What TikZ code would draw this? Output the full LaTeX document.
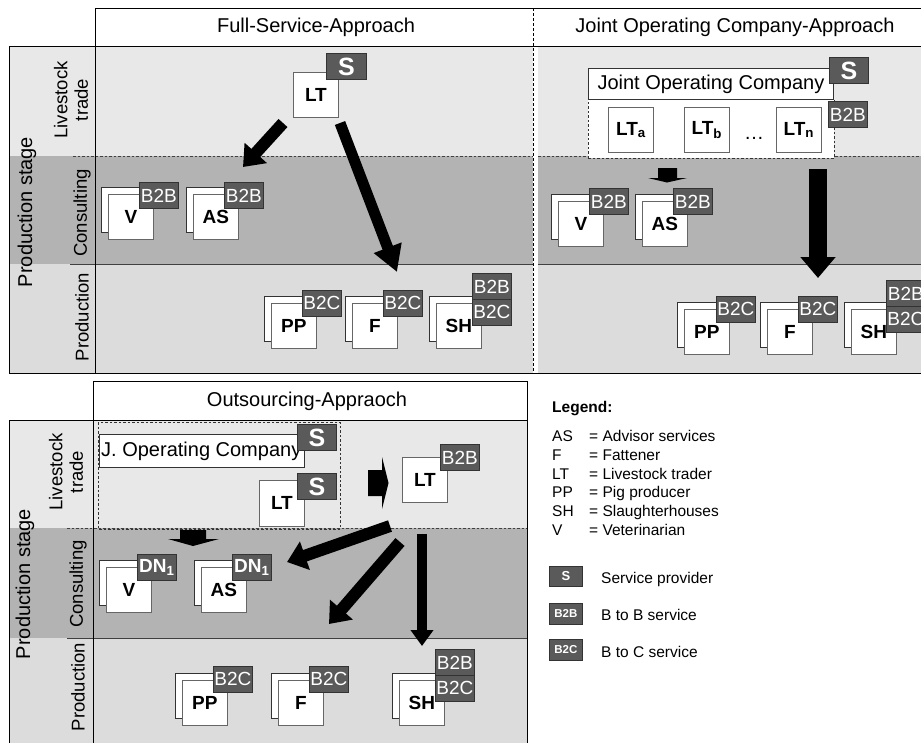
\documentclass[tikz,border=0pt]{standalone}
\usepackage{fontspec}
\setmainfont{Liberation Sans}
\usetikzlibrary{arrows.meta}
\definecolor{lsband}{HTML}{E8E8E8}
\definecolor{cnband}{HTML}{B3B3B3}
\definecolor{prband}{HTML}{DCDCDC}
\definecolor{badgec}{HTML}{5A5A5A}
\newcommand\fs[1]{\fontsize{#1}{#1}\selectfont}
\begin{document}
\begin{tikzpicture}[x=1pt,y=-1pt,
  frontbox/.style={draw=black!60, fill=white, line width=0.8pt, minimum width=45pt, minimum height=45pt, inner sep=0pt, anchor=north west, font=\fs{19}\bfseries},
  backbox/.style={draw=black!80, fill=white, line width=0.8pt, minimum width=45pt, minimum height=45pt, inner sep=0pt, anchor=north west},
  badge/.style={draw=black!80, fill=badgec, line width=0.8pt, minimum width=39pt, minimum height=26pt, inner sep=0pt, anchor=north west, text=white, font=\fs{19}},
  sbadge/.style={badge, minimum width=40pt, font=\fs{25}\bfseries},
  dnbadge/.style={badge, font=\fs{19}\bfseries},
  lgbadge/.style={badge, minimum width=33pt, minimum height=21pt, font=\fs{11.5}\bfseries},
  bandline/.style={draw=black!75, line width=0.7pt},
  banddash/.style={draw=black!75, line width=0.7pt, dash pattern=on 2.5pt off 2pt},
  frame/.style={draw=black, line width=0.9pt},
  bandlabel/.style={rotate=90, font=\fs{18.5}},
  heavy/.style={line width=#1, -{Triangle[length=19pt,width=29pt]}},
  legtext/.style={anchor=base west, inner sep=0pt, font=\fs{15.5}}
]
\useasboundingbox (0,0) rectangle (921,742);
\clip (0,0) rectangle (921,742);
\fill[white] (0,0) rectangle (921,742);

% ---------- top panel bands
\fill[lsband] (9,46) rectangle (533,156);
\fill[cnband] (9,156) rectangle (533,264);
\fill[prband] (9,264) rectangle (533,373);
\fill[lsband] (538,46) rectangle (925,156);
\fill[cnband] (538,156) rectangle (925,264);
\fill[prband] (538,264) rectangle (925,373);
\draw[banddash] (73,156) -- (533,156);
\draw[banddash] (538,156) -- (925,156);
\draw[bandline] (70,264) -- (533,264);
\draw[bandline] (538,264) -- (925,264);
\draw[frame] (95,8) -- (925,8);
\draw[frame] (95,8) -- (95,373);
\draw[frame] (9,46) -- (925,46);
\draw[frame] (9,46) -- (9,373) -- (925,373);
\draw[black, line width=0.8pt, dash pattern=on 3pt off 2pt] (533,8) -- (533,373);

\node[font=\fs{20}] (h1) at (316,27) {Full-Service-Approach};
\node[font=\fs{20}] (h2) at (735,27) {Joint Operating Company-Approach};

\node[rotate=90, font=\fs{20}] (ps1) at (27,212) {Production stage};
\node[rotate=90, font=\fontsize{18.5}{20.5}\selectfont, align=center] (lv1) at (71,100) {Livestock\\trade};
\node[bandlabel] (cs1) at (82,213) {Consulting};
\node[bandlabel] (pr1) at (82,317) {Production};

% ---------- Full-Service-Approach
\node[frontbox] (lt1) at (293,72) {LT};
\node[sbadge] (lt1s) at (326,53) {S};

\node[backbox] (v1k) at (101,187) {};
\node[frontbox] (v1) at (108,194) {V};
\node[badge] (v1b) at (139,182) {B2B};
\node[backbox] (as1k) at (186,187) {};
\node[frontbox] (as1) at (193,194) {AS};
\node[badge] (as1b) at (224,182) {B2B};

\node[backbox] (pp1k) at (264,296) {};
\node[frontbox] (pp1) at (271,303) {PP};
\node[badge] (pp1b) at (302,290) {B2C};
\node[backbox] (f1k) at (345,296) {};
\node[frontbox] (f1) at (352,303) {F};
\node[badge] (f1b) at (383,290) {B2C};
\node[backbox] (sh1k) at (429,296) {};
\node[frontbox] (sh1) at (436,303) {SH};
\node[badge] (sh1b) at (472,273) {B2B};
\node[badge] (sh1c) at (472,299) {B2C};

\coordinate (a1s) at (283,123);
\coordinate (a1e) at (243,167);
\coordinate (a2s) at (340,123);
\coordinate (a2e) at (397,272);
\draw[heavy=12pt] (a1s) -- (a1e);
\draw[line width=11pt, -{Triangle[length=26pt,width=28pt]}] (a2s) -- (a2e);

% ---------- Joint Operating Company-Approach
\node[draw=black!80, line width=0.8pt, dash pattern=on 2.5pt off 2pt, fill=white, minimum width=246pt, minimum height=59pt, inner sep=0pt, anchor=north west] (jocd) at (588,99) {};
\node[draw=black!80, line width=0.8pt, fill=white, minimum width=245pt, minimum height=31pt, inner sep=0pt, anchor=north west, font=\fs{20}] (joc) at (588,68) {Joint Operating Company};
\node[sbadge, minimum width=39pt] (jocs) at (829,57) {S};
\node[badge] (jocb) at (828,101) {B2B};
\node[frontbox] (lta) at (608,107) {LT\textsubscript{a}};
\node[frontbox] (ltb) at (684,107) {LT\textsubscript{b}};
\node[frontbox] (ltn) at (776,107) {LT\textsubscript{n}};
\node[font=\fs{20}, anchor=base, inner sep=0pt] (dots) at (754,139) {\dots};

\fill[black] (658,168) -- (677,168) -- (677,178) -- (687,178) -- (667,182.5) -- (648,178) -- (658,178) -- cycle;
\coordinate (a3s) at (818,169);
\coordinate (a3e) at (818,278);
\draw[line width=18pt, -{Triangle[length=21pt,width=34pt]}] (a3s) -- (a3e);

\node[backbox] (v2k) at (551,194) {};
\node[frontbox] (v2) at (558,201) {V};
\node[badge] (v2b) at (589,188) {B2B};
\node[backbox] (as2k) at (635,194) {};
\node[frontbox] (as2) at (642,201) {AS};
\node[badge] (as2b) at (673,188) {B2B};

\node[backbox] (pp2k) at (677,302) {};
\node[frontbox] (pp2) at (684,309) {PP};
\node[badge] (pp2b) at (716,296) {B2C};
\node[backbox] (f2k) at (760,302) {};
\node[frontbox] (f2) at (767,309) {F};
\node[badge] (f2b) at (798,296) {B2C};
\node[backbox] (sh2k) at (844,302) {};
\node[frontbox] (sh2) at (851,309) {SH};
\node[badge] (sh2b) at (886,280) {B2B};
\node[badge] (sh2c) at (886,306) {B2C};

% ---------- Outsourcing-Appraoch
\fill[lsband] (9,420) rectangle (527,528);
\fill[cnband] (9,528) rectangle (527,638);
\fill[prband] (9,638) rectangle (527,750);
\draw[banddash] (67,528) -- (527,528);
\draw[bandline] (67,638) -- (527,638);
\draw[frame] (93,381) rectangle (527,750);
\draw[frame] (9,750) -- (9,420) -- (527,420);
\node[font=\fs{20}] (h3) at (307,401) {Outsourcing-Appraoch};

\node[rotate=90, font=\fs{20}] (ps2) at (25,584) {Production stage};
\node[rotate=90, font=\fontsize{18.5}{20.5}\selectfont, align=center] (lv2) at (66,472) {Livestock\\trade};
\node[bandlabel] (cs2) at (78,584) {Consulting};
\node[bandlabel] (pr2) at (78,687) {Production};

\draw[black!80, line width=0.8pt, dash pattern=on 2.5pt off 2pt] (98,422) rectangle (340,529);
\node[draw=black!80, line width=0.8pt, fill=white, minimum width=205pt, minimum height=33pt, inner sep=0pt, anchor=north west] (jc) at (99,434) {};
\node[anchor=west, inner sep=0pt, font=\fs{20}] (jct) at (101,451) {J. Operating Company};
\node[sbadge, minimum width=39pt] (jcs) at (297,424) {S};
\node[frontbox, minimum height=46pt] (lt3) at (259,480) {LT};
\node[sbadge, minimum width=39pt] (lt3s) at (297,473) {S};

\fill[black] (368,470) -- (382,470) -- (382,457) -- (388.5,483) -- (382,509) -- (382,496) -- (368,496) -- cycle;
\node[frontbox] (lt4) at (402,457) {LT};
\node[badge] (lt4b) at (440,444) {B2B};

\fill[black] (180,530) -- (206,530) -- (206,539) -- (219,539) -- (193,546) -- (168,539) -- (180,539) -- cycle;

\node[backbox] (v3k) at (99,560) {};
\node[frontbox] (v3) at (106,567) {V};
\node[dnbadge] (v3b) at (137,554) {DN\textsubscript{1}};
\node[backbox] (as3k) at (194,560) {};
\node[frontbox] (as3) at (201,567) {AS};
\node[dnbadge] (as3b) at (232,554) {DN\textsubscript{1}};

\node[backbox] (pp3k) at (175,673) {};
\node[frontbox] (pp3) at (182,680) {PP};
\node[badge] (pp3b) at (213,666) {B2C};
\node[backbox] (f3k) at (271,673) {};
\node[frontbox] (f3) at (278,680) {F};
\node[badge] (f3b) at (309,666) {B2C};
\node[backbox] (sh3k) at (392,673) {};
\node[frontbox] (sh3) at (399,680) {SH};
\node[badge] (sh3b) at (435,649) {B2B};
\node[badge] (sh3c) at (435,675) {B2C};

\coordinate (b1s) at (390,526);
\coordinate (b1e) at (287,562);
\coordinate (b2s) at (400,542);
\coordinate (b2e) at (329,624);
\coordinate (b3s) at (422,534);
\coordinate (b3e) at (422,646);
\draw[heavy=12pt] (b1s) -- (b1e);
\draw[heavy=12pt] (b2s) -- (b2e);
\draw[line width=10pt, -{Triangle[length=16pt,width=22pt]}] (b3s) -- (b3e);

% ---------- Legend
\node[legtext, font=\fs{15.5}\bfseries] (lg) at (552,412.5) {Legend:};
\node[legtext] (k1) at (552,441.5) {AS};
\node[legtext] (d1) at (589,441.5) {= Advisor services};
\node[legtext] (k2) at (552,460.3) {F};
\node[legtext] (d2) at (589,460.3) {= Fattener};
\node[legtext] (k3) at (552,479.1) {LT};
\node[legtext] (d3) at (589,479.1) {= Livestock trader};
\node[legtext] (k4) at (552,497.9) {PP};
\node[legtext] (d4) at (589,497.9) {= Pig producer};
\node[legtext] (k5) at (552,516.7) {SH};
\node[legtext] (d5) at (589,516.7) {= Slaughterhouses};
\node[legtext] (k6) at (552,535.5) {V};
\node[legtext] (d6) at (589,535.5) {= Veterinarian};

\node[lgbadge, minimum height=20pt, font=\fs{13}\bfseries] (ls) at (549,566) {S};
\node[legtext] (lst) at (601,583) {Service provider};
\node[lgbadge] (lb) at (549,603) {B2B};
\node[legtext] (lbt) at (601,620.5) {B to B service};
\node[lgbadge] (lc) at (549,639) {B2C};
\node[legtext] (lct) at (601,657.5) {B to C service};
\end{tikzpicture}
\end{document}
